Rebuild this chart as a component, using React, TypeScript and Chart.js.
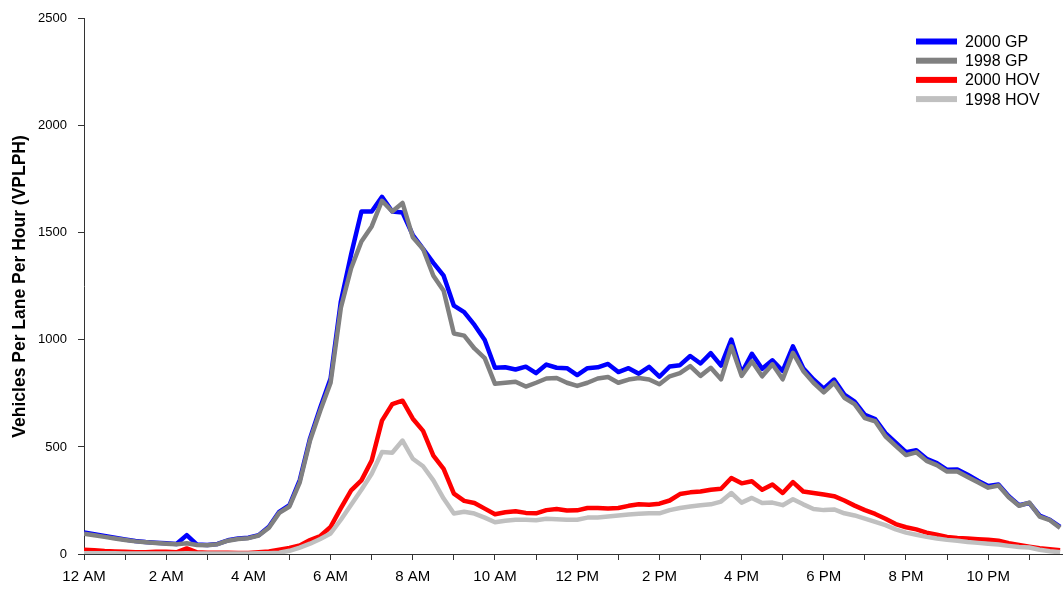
import React, { useEffect, useRef } from "react";
import { Chart, registerables } from "chart.js";

Chart.register(...registerables);

// Time of day in hours (15-minute steps)
const times: number[] = Array.from({ length: 96 }, (_, i) => i / 4);

const hourTickLabels = ["12 AM", "2 AM", "4 AM", "6 AM", "8 AM", "10 AM", "12 PM", "2 PM", "4 PM", "6 PM", "8 PM", "10 PM"];
const yTickValues = [0, 500, 1000, 1500, 2000, 2500];
const seriesLabels = ["2000 GP", "1998 GP", "2000 HOV", "1998 HOV"];
const seriesColors = ["#0000FF", "#808080", "#FF0000", "#C0C0C0"];
const yTitle = "Vehicles Per Lane Per Hour (VPLPH)";

const gp2000 = [
  100, 92, 84, 76, 68, 61, 56, 53, 50, 47,
  88, 44, 42, 47, 64, 72, 76, 88, 127, 197,
  228, 345, 540, 685, 820, 1180, 1400, 1600, 1600, 1668,
  1600, 1595, 1490, 1425, 1360, 1300, 1160, 1130, 1070, 1000,
  870, 872, 862, 875, 845, 885, 870, 868, 836, 868,
  872, 888, 850, 868, 842, 874, 828, 876, 882, 925,
  890, 938, 880, 1002, 845, 935, 865, 905, 855, 970,
  868, 815, 772, 815, 745, 712, 650, 630, 565, 520,
  476, 485, 445, 425, 393, 395, 370, 342, 318, 325,
  270, 228, 238, 180, 160, 127,
];

const gp1998 = [
  95, 88, 80, 72, 65, 59, 55, 51, 48, 45,
  50, 42, 41, 46, 62, 70, 74, 86, 123, 192,
  222, 335, 530, 670, 800, 1150, 1335, 1460, 1530, 1650,
  1600, 1640, 1480, 1425, 1300, 1230, 1030, 1020, 960, 915,
  795, 800, 805, 782, 800, 820, 822, 800, 785, 800,
  820, 827, 800, 815, 822, 815, 793, 830, 845, 878,
  832, 870, 816, 970, 832, 900, 830, 886, 816, 940,
  855, 800, 755, 800, 730, 700, 635, 620, 550, 505,
  462, 475, 435, 415, 385, 385, 360, 335, 310, 320,
  265, 225, 240, 175, 158, 122,
];

const hov2000 = [
  20, 18, 14, 12, 10, 8, 8, 10, 10, 8,
  26, 8, 6, 6, 6, 5, 5, 8, 12, 20,
  28, 40, 65, 84, 127, 214, 297, 344, 437, 623,
  700, 716, 632, 575, 460, 398, 282, 248, 238, 212,
  186, 195, 200, 192, 190, 205, 210, 203, 204, 215,
  215, 212, 215, 225, 232, 230, 235, 250, 280, 288,
  292, 300, 305, 355, 330, 340, 300, 325, 285, 336,
  292, 285, 278, 270, 250, 226, 205, 187, 165, 140,
  125, 115, 100, 90, 80, 75, 72, 69, 67, 62,
  50, 42, 34, 27, 22, 18,
];

const hov1998 = [
  3, 3, 3, 3, 2, 2, 2, 2, 2, 2,
  3, 2, 2, 2, 2, 2, 2, 3, 4, 6,
  15, 30, 48, 70, 96, 160, 230, 300, 375, 476,
  473, 530, 445, 410, 344, 259, 189, 197, 189, 170,
  148, 155, 160, 160, 158, 165, 162, 160, 160, 170,
  170, 175, 180, 185, 188, 190, 190, 205, 215, 222,
  228, 232, 245, 285, 240, 262, 238, 240, 228, 256,
  232, 210, 205, 208, 190, 180, 165, 150, 135, 115,
  100, 90, 80, 72, 66, 62, 56, 52, 48, 44,
  38, 33, 30, 20, 13, 8,
];

const seriesValues = [gp2000, gp1998, hov2000, hov1998];

const FONT = '"Liberation Sans", Arial, Helvetica, sans-serif';

const insideLegend = {
  id: "insideLegend",
  afterDraw(chart: any) {
    const ctx = chart.ctx;
    ctx.save();
    chart.data.datasets.forEach((ds: any, i: number) => {
      const y = 41.5 + i * 19.2;
      ctx.fillStyle = ds.borderColor;
      ctx.fillRect(916, y - 3, 41, 6);
      ctx.fillStyle = "#000";
      ctx.font = `16px ${FONT}`;
      ctx.textBaseline = "middle";
      ctx.textAlign = "left";
      ctx.fillText(ds.label, 965, y + 1);
    });
    ctx.restore();
  },
};

export default function App() {
  const canvasRef = useRef<HTMLCanvasElement | null>(null);

  useEffect(() => {
    const canvas = canvasRef.current;
    if (!canvas) return;
    const datasets = seriesLabels.map((label, si) => ({
      label,
      data: times.map((t, i) => ({ x: t, y: seriesValues[si][i] })),
      borderColor: seriesColors[si],
      backgroundColor: seriesColors[si],
      borderWidth: 4.5,
      pointRadius: 0,
      tension: 0,
      fill: false,
      borderJoinStyle: "round" as const,
      order: 4 - si,
    }));

    const chart = new Chart(canvas, {
      type: "line",
      data: { datasets },
      plugins: [insideLegend],
      options: {
        animation: false,
        responsive: false,
        devicePixelRatio: 1,
        layout: { padding: { top: 16, left: 0, right: 0, bottom: 0 } },
        plugins: {
          legend: { display: false },
          tooltip: { enabled: false },
        },
        scales: {
          x: {
            type: "linear",
            min: 0,
            max: 23.82,
            afterBuildTicks: (scale: any) => {
              const ticks = [];
              for (let h = 0; h <= 23; h++) ticks.push({ value: h });
              scale.ticks = ticks;
            },
            afterFit: (scale: any) => {
              scale.height = 37;
            },
            grid: {
              display: true,
              drawOnChartArea: false,
              drawTicks: true,
              tickLength: 6,
              color: "#333",
            },
            border: { display: true, color: "#333", width: 1 },
            ticks: {
              autoSkip: false,
              maxRotation: 0,
              padding: 8,
              color: "#000",
              font: { family: FONT, size: 15 },
              callback: (v: any) => {
                const n = Number(v);
                return n % 2 === 0 ? hourTickLabels[n / 2] : "";
              },
            },
          },
          y: {
            type: "linear",
            min: 0,
            max: 2500,
            afterBuildTicks: (scale: any) => {
              scale.ticks = yTickValues.map((v) => ({ value: v }));
            },
            afterFit: (scale: any) => {
              scale.width = 84;
            },
            grid: {
              display: true,
              drawOnChartArea: false,
              drawTicks: true,
              tickLength: 6,
              color: "#333",
            },
            border: { display: true, color: "#333", width: 1 },
            ticks: {
              padding: 11,
              color: "#000",
              font: { family: FONT, size: 13 },
              callback: (v: any) => String(v),
            },
            title: {
              display: true,
              text: yTitle,
              color: "#000",
              font: { family: FONT, size: 17.5, weight: "bold", lineHeight: 1.2 },
              padding: { top: 10, bottom: 0 },
            },
          },
        },
      },
    });
    return () => chart.destroy();
  }, []);

  return (
    <div style={{ position: "fixed", left: 0, top: 0, width: 1063, height: 591, background: "#fff" }}>
      <canvas ref={canvasRef} width={1063} height={591} style={{ width: 1063, height: 591, display: "block" }} />
    </div>
  );
}
